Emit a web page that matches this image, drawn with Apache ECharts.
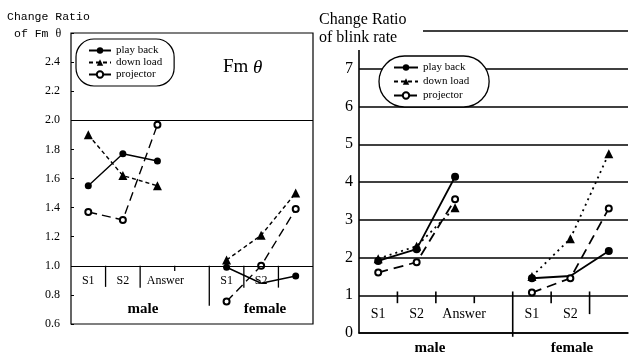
<!DOCTYPE html>
<html><head><meta charset="utf-8">
<script src="https://cdn.jsdelivr.net/npm/echarts@6/dist/echarts.min.js"></script>
<style>html,body{margin:0;padding:0;background:#fff}#c{width:629px;height:354px}</style>
</head><body><div id="c"></div>
<script>
const categories = ['S1','S2','Answer','','S1','S2',''];
const seriesNames = ['play back','down load','projector'];
// Left panel: Change ratio of Fm theta
const fmPlayBack  = [1.55, 1.77, 1.72, null, 0.99, 0.88, 0.93];
const fmDownLoad  = [1.90, 1.62, 1.55, null, 1.04, 1.21, 1.50];
const fmProjector = [1.37, 1.315, 1.97, null, 0.755, 1.00, 1.39];
const fmTicks = [0.6,0.8,1.0,1.2,1.4,1.6,1.8,2.0,2.2,2.4];
const fmRefLines = [2.0, 1.0];
// Right panel: Change ratio of blink rate
const blinkPlayBack  = [1.91, 2.22, 4.14, null, 1.45, 1.51, 2.17];
const blinkDownLoad  = [1.97, 2.30, 3.32, null, 1.50, 2.50, 4.75];
const blinkProjector = [1.60, 1.875, 3.54, null, 1.07, 1.45, 3.30];
const blinkTicks = [0,1,2,3,4,5,6,7];
// hidden markers (covered in the original)
const hiddenPlayBackIdx = [5];
// divider segments [boundary, yFrom, yTo]
const fmDividers = [[1,1.0,0.855],[2,1.0,0.85],[3,1.0,0.965],[4,1.0,0.725],[5,1.0,0.85],[6,1.0,0.85]];
const blinkDividers = [[1,1.1,0.79],[2,1.1,0.79],[3,0.97,0.79],[4,1.1,-0.1],[5,1.1,0.79],[6,1.1,0.5]];

const SERIF = 'Liberation Serif';
const chart = echarts.init(document.getElementById('c'));

function withHidden(arr, idx){
  return arr.map((v,i)=> idx.includes(i) && v!=null ? {value:v, symbol:'none'} : v);
}
function dividerSeries(data, xi, yi, w){
  return {type:'custom', xAxisIndex:xi, yAxisIndex:yi, silent:true, data:data, encode:{x:0,y:[1,2]},
    renderItem:function(params, api){
      const p1 = api.coord([api.value(0), api.value(1)]);
      const p2 = api.coord([api.value(0), api.value(2)]);
      return {type:'line', shape:{x1:p1[0],y1:p1[1],x2:p2[0],y2:p2[1]}, style:{stroke:'#000', lineWidth:w}};
    }};
}
function catLabelFmt(v){ return v==='Answer' ? '{a|Answer}' : v; }

const option = {
  animation:false,
  grid:[
    {left:71, top:33, width:242, height:291, show:true, borderColor:'#000', borderWidth:1.2, backgroundColor:'transparent'},
    {left:359, top:31, width:269, height:302, show:false}
  ],
  xAxis:[
    {type:'category', gridIndex:0, data:categories, boundaryGap:true,
     axisLine:{show:false}, axisTick:{show:false}, splitLine:{show:false},
     axisLabel:{inside:true, interval:0, margin:43, verticalAlign:'middle', fontFamily:SERIF, fontSize:12, color:'#000',
       formatter:catLabelFmt, rich:{a:{fontFamily:SERIF, fontSize:12, color:'#000', padding:[0,0,0,16]}}}},
    {type:'value', gridIndex:0, min:0, max:7, show:false},
    {type:'category', gridIndex:1, data:categories, boundaryGap:true,
     axisLine:{show:true, lineStyle:{color:'#000', width:1.6}}, axisTick:{show:false}, splitLine:{show:false},
     axisLabel:{inside:true, interval:0, margin:19, verticalAlign:'middle', fontFamily:SERIF, fontSize:14, color:'#000',
       formatter:catLabelFmt, rich:{a:{fontFamily:SERIF, fontSize:14, color:'#000', padding:[0,0,0,18]}}}},
    {type:'value', gridIndex:1, min:0, max:7, show:false}
  ],
  yAxis:[
    {type:'value', gridIndex:0, min:0.6, max:2.6, interval:0.2,
     axisLine:{show:false}, axisTick:{show:true, inside:true, length:3, lineStyle:{color:'#000'}}, splitLine:{show:false},
     axisLabel:{margin:11, fontFamily:SERIF, fontSize:12, color:'#000',
       formatter:function(v){ return fmTicks.some(t=>Math.abs(t-v)<1e-6) ? v.toFixed(1) : ''; }}},
    {type:'value', gridIndex:1, min:0, max:8, interval:1,
     axisLine:{show:true, lineStyle:{color:'#000', width:1.6}}, axisTick:{show:false},
     splitLine:{show:true, lineStyle:{color:'#000', width:1.6}},
     axisLabel:{margin:6, fontFamily:SERIF, fontSize:16, color:'#000',
       formatter:function(v){ return blinkTicks.includes(v) ? String(v) : ''; }}}
  ],
  legend:[
    {left:76, top:39, orient:'vertical', data:seriesNames, padding:[6,12,6,12], borderColor:'#000', borderWidth:1.2,
     backgroundColor:'#fff', borderRadius:18, itemWidth:22, itemHeight:8, itemGap:1, selectedMode:false,
     textStyle:{fontFamily:SERIF, fontSize:11, color:'#000', lineHeight:11}},
    {left:379, top:56, orient:'vertical', data:seriesNames, padding:[6,20,6,14], borderColor:'#000', borderWidth:1.3,
     backgroundColor:'#fff', borderRadius:26, itemWidth:24, itemHeight:8, itemGap:3, selectedMode:false,
     textStyle:{fontFamily:SERIF, fontSize:11, color:'#000', lineHeight:11}}
  ],
  series:[
    {name:seriesNames[0], type:'line', xAxisIndex:0, yAxisIndex:0, data:withHidden(fmPlayBack, hiddenPlayBackIdx),
     symbol:'circle', symbolSize:7, itemStyle:{color:'#000'}, lineStyle:{color:'#000', width:1.4, type:'solid'},
     markLine:{silent:true, symbol:'none', label:{show:false}, lineStyle:{color:'#000', type:'solid', width:1.2},
       data:fmRefLines.map(v=>({yAxis:v}))}},
    {name:seriesNames[1], type:'line', xAxisIndex:0, yAxisIndex:0, data:fmDownLoad,
     symbol:'triangle', symbolSize:9, itemStyle:{color:'#000'}, lineStyle:{color:'#000', width:1.4, type:[4,3]}},
    {name:seriesNames[2], type:'line', xAxisIndex:0, yAxisIndex:0, data:fmProjector,
     symbol:'emptyCircle', symbolSize:6, itemStyle:{color:'#000', borderWidth:1.2}, lineStyle:{color:'#000', width:1.4, type:[9,5]}},
    dividerSeries(fmDividers, 1, 0, 1.3),
    {name:seriesNames[0], type:'line', xAxisIndex:2, yAxisIndex:1, data:withHidden(blinkPlayBack, hiddenPlayBackIdx),
     symbol:'circle', symbolSize:8, itemStyle:{color:'#000'}, lineStyle:{color:'#000', width:1.8, type:'solid'}},
    {name:seriesNames[1], type:'line', xAxisIndex:2, yAxisIndex:1, data:blinkDownLoad,
     symbol:'triangle', symbolSize:9, itemStyle:{color:'#000'}, lineStyle:{color:'#000', width:1.8, type:[2,4]}},
    {name:seriesNames[2], type:'line', xAxisIndex:2, yAxisIndex:1, data:blinkProjector,
     symbol:'emptyCircle', symbolSize:6, itemStyle:{color:'#000', borderWidth:1.3}, lineStyle:{color:'#000', width:1.8, type:[10,6]}},
    dividerSeries(blinkDividers, 3, 1, 1.6)
  ],
  graphic:[
    {type:'text', left:7, top:11, z:100, style:{text:'Change Ratio', font:'11.5px "Liberation Mono"', fill:'#000'}},
    {type:'text', left:14, top:28, z:100, style:{text:'{m|of Fm }{t|θ}', rich:{m:{fontFamily:'Liberation Mono', fontSize:11.5, fill:'#000'}, t:{fontFamily:SERIF, fontSize:12, fill:'#000'}}}},
    {type:'text', left:223, top:58, z:100, style:{text:'{n|Fm }{t|θ}', rich:{n:{fontFamily:SERIF, fontSize:19, fill:'#000'}, t:{fontFamily:SERIF, fontSize:19, fontStyle:'italic', fill:'#000'}}}},
    {type:'text', x:143, y:309, z:100, style:{text:'male', font:'bold 15px "Liberation Serif"', fill:'#000', align:'center', verticalAlign:'middle'}},
    {type:'text', x:265, y:309, z:100, style:{text:'female', font:'bold 15px "Liberation Serif"', fill:'#000', align:'center', verticalAlign:'middle'}},
    {type:'rect', shape:{x:315, y:0, width:108, height:50}, z:90, style:{fill:'#fff'}},
    {type:'text', left:319, top:12, z:100, style:{text:'Change Ratio', font:'16px "Liberation Serif"', fill:'#000'}},
    {type:'text', left:319, top:30, z:100, style:{text:'of blink rate', font:'16px "Liberation Serif"', fill:'#000'}},
    {type:'text', x:430, y:348, z:100, style:{text:'male', font:'bold 15px "Liberation Serif"', fill:'#000', align:'center', verticalAlign:'middle'}},
    {type:'text', x:572, y:348, z:100, style:{text:'female', font:'bold 15px "Liberation Serif"', fill:'#000', align:'center', verticalAlign:'middle'}}
  ]
};
chart.setOption(option);
</script></body></html>
